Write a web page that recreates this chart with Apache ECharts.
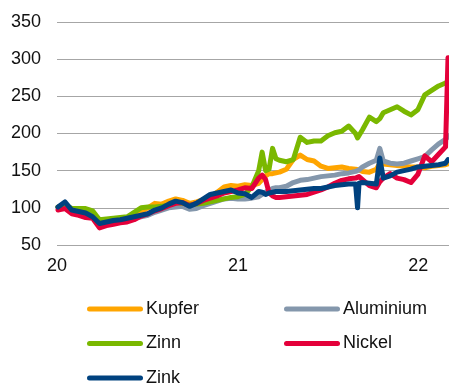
<!DOCTYPE html>
<html>
<head>
<meta charset="utf-8">
<script src="https://cdn.jsdelivr.net/npm/echarts@6/dist/echarts.min.js"></script>
<style>
  html, body { margin: 0; padding: 0; background: #fff; }
  #chart { width: 449px; height: 385px; }
</style>
</head>
<body>
<div id="chart"></div>
<script>
// Metal price indices (start of 2020 = 100), sampled roughly every two weeks
const dates = [
  '2020-01-03','2020-01-17','2020-01-31','2020-02-14','2020-02-28','2020-03-13','2020-03-27','2020-04-10','2020-04-24',
  '2020-05-08','2020-05-22','2020-06-05','2020-06-19','2020-07-03','2020-07-17','2020-07-31','2020-08-14','2020-08-28',
  '2020-09-11','2020-09-25','2020-10-09','2020-10-23','2020-11-06','2020-11-20','2020-12-04','2020-12-18','2021-01-01',
  '2021-01-15','2021-01-29','2021-02-12','2021-02-19','2021-02-26','2021-03-05','2021-03-12','2021-03-19','2021-03-26',
  '2021-04-09','2021-04-23','2021-05-07','2021-05-21','2021-06-04','2021-06-18','2021-07-02','2021-07-16','2021-07-30',
  '2021-08-13','2021-08-27','2021-08-31','2021-09-03','2021-09-10','2021-09-24','2021-10-08','2021-10-15','2021-10-22',
  '2021-11-05','2021-11-19','2021-12-03','2021-12-17','2021-12-31','2022-01-14','2022-01-28','2022-02-11','2022-02-25',
  '2022-03-02'
];

const kupfer = [
  101,104,97,95,93,88,80,82,84,85,86,90,95,100,106,105,109,112,110,106,108,111,115,121,128,130,129,
  131,130,133,138,143,146,146,147,148,152,165,171,165,163,156,153,154,155,153,152,152,151,149,148,152,160,159,158,157,156,155,155,154,156,157,158,159
];
const aluminium = [
  100,104,98,96,94,92,84,83,82,82,83,86,88,90,94,97,100,101,102,98,99,103,106,109,112,113,112,
  112,113,115,118,121,124,126,127,127,129,134,137,138,140,142,143,144,146,147,149,150,151,155,160,164,180,163,160,159,160,163,166,169,178,186,192,196
];
const zinn = [
  101,104,99,99,99,96,84,85,86,87,88,94,100,101,101,102,104,107,106,104,105,106,108,110,112,114,115,
  118,128,150,175,150,152,180,166,164,162,165,195,188,190,190,197,201,203,210,200,194,192,205,222,216,220,228,232,236,230,225,232,252,258,264,268,270
];
const nickel = [
  97,99,92,90,87,86,73,76,78,80,81,84,89,92,96,99,103,106,107,103,106,110,113,116,120,122,124,
  127,126,140,144,138,120,116,114,114,115,116,117,118,121,124,128,133,137,139,140,141,142,138,130,127,135,140,146,140,138,134,145,170,162,172,182,302
];
const zink = [
  101,108,97,95,93,88,79,81,83,84,86,88,90,92,97,100,105,109,107,102,106,112,118,120,122,124,120,
  119,114,122,121,118,120,121,122,122,122,123,124,125,126,126,128,130,131,132,132,100,133,134,133,132,167,140,143,148,150,152,155,156,157,158,160,165
];

const seriesNames = ['Kupfer', 'Aluminium', 'Zinn', 'Nickel', 'Zink'];
const seriesValues = [kupfer, aluminium, zinn, nickel, zink];
const seriesColors = ['#FFA500', '#8497AC', '#7AB800', '#E4003A', '#00427F'];
const yTicks = [50, 100, 150, 200, 250, 300, 350];
const yearTicks = [2020, 2021, 2022];

const FONT = "'Liberation Sans', Arial, sans-serif";
const capsule = 'path://M2.5,0H53.5A2.5,2.5,0,0,1,53.5,5H2.5A2.5,2.5,0,0,1,2.5,0Z';

// 'YYYY-MM-DD' -> local timestamp
function toTime(s) {
  const p = s.split('-').map(Number);
  return new Date(p[0], p[1] - 1, p[2]).getTime();
}

const chart = echarts.init(document.getElementById('chart'), null, { renderer: 'canvas' });

const legendBase = {
  orient: 'vertical',
  top: 299,
  height: 120,
  padding: 0,
  itemWidth: 56,
  itemHeight: 5,
  itemGap: 14.5,
  icon: capsule,
  textStyle: { fontFamily: FONT, fontSize: 18, color: '#111', lineHeight: 20, padding: [0, 0, 0, -2] }
};

chart.setOption({
  animation: false,
  grid: { left: 57, right: 0, top: 22, bottom: 140, containLabel: false },
  legend: [
    Object.assign({}, legendBase, { left: 87, data: ['Kupfer', 'Zinn', 'Zink'] }),
    Object.assign({}, legendBase, { left: 284, data: ['Aluminium', 'Nickel'] })
  ],
  xAxis: {
    type: 'value',
    min: new Date(2020, 0, 1).getTime(),
    max: new Date(2022, 2, 4).getTime(),
    axisLine: { show: false },
    axisTick: { show: false },
    splitLine: { show: false },
    axisLabel: {
      customValues: yearTicks.map(y => new Date(y, 0, 1).getTime()),
      formatter: v => String(new Date(v).getFullYear()).slice(2),
      fontFamily: FONT, fontSize: 18, color: '#111', margin: 12
    }
  },
  yAxis: {
    type: 'value',
    min: yTicks[0],
    max: yTicks[yTicks.length - 1],
    interval: 50,
    axisLine: { show: false },
    axisTick: { show: false },
    splitLine: { lineStyle: { color: '#a6a6a6', width: 1 } },
    axisLabel: { fontFamily: FONT, fontSize: 18, color: '#111', margin: 16 }
  },
  series: seriesNames.map((name, k) => ({
    name: name,
    type: 'line',
    showSymbol: false,
    symbol: 'none',
    color: seriesColors[k],
    lineStyle: { width: 5, color: seriesColors[k], cap: 'round', join: 'round' },
    data: dates.map((d, i) => [toTime(d), seriesValues[k][i]])
  }))
});
</script>
</body>
</html>
